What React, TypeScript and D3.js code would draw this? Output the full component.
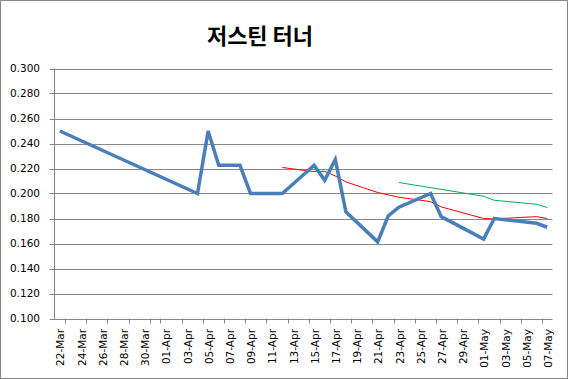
import React from "react";
import * as d3 from "d3";

const title = "저스틴 터너";

const blueDates = ["2015-03-22","2015-04-04","2015-04-05","2015-04-06","2015-04-08","2015-04-09","2015-04-12","2015-04-15","2015-04-16","2015-04-17","2015-04-18","2015-04-21","2015-04-22","2015-04-23","2015-04-26","2015-04-27","2015-05-01","2015-05-02","2015-05-06","2015-05-07"];
const blueValues = [0.250,0.200,0.250,0.2226,0.2226,0.200,0.200,0.2226,0.2105,0.2272,0.1853,0.1613,0.1821,0.1890,0.200,0.1815,0.1635,0.180,0.1762,0.1730];

const redDates = ["2015-04-12","2015-04-15","2015-04-16","2015-04-17","2015-04-18","2015-04-21","2015-04-23","2015-04-26","2015-04-27","2015-05-01","2015-05-02","2015-05-06","2015-05-07"];
const redValues = [0.2208,0.2175,0.2178,0.2140,0.2093,0.2008,0.1970,0.1935,0.1893,0.1800,0.1797,0.1815,0.1800];

const greenDates = ["2015-04-23","2015-05-01","2015-05-02","2015-05-06","2015-05-07"];
const greenValues = [0.2088,0.1978,0.1946,0.1914,0.1888];

const xTickDates = ["2015-03-22","2015-03-24","2015-03-26","2015-03-28","2015-03-30","2015-04-01","2015-04-03","2015-04-05","2015-04-07","2015-04-09","2015-04-11","2015-04-13","2015-04-15","2015-04-17","2015-04-19","2015-04-21","2015-04-23","2015-04-25","2015-04-27","2015-04-29","2015-05-01","2015-05-03","2015-05-05","2015-05-07"];
const xTickLabels = ["22-Mar","24-Mar","26-Mar","28-Mar","30-Mar","01-Apr","03-Apr","05-Apr","07-Apr","09-Apr","11-Apr","13-Apr","15-Apr","17-Apr","19-Apr","21-Apr","23-Apr","25-Apr","27-Apr","29-Apr","01-May","03-May","05-May","07-May"];
const yTicks = [0.1,0.12,0.14,0.16,0.18,0.2,0.22,0.24,0.26,0.28,0.3];

const W = 568, H = 379;
const left = 54.5, right = 552.5, top = 68.5, bottom = 318.5;

const parse = (s: string) => new Date(s + "T00:00:00Z");
const mid = (s: string) => new Date(parse(s).getTime() + 12 * 3600 * 1000);

export default function App() {
  const x = d3.scaleUtc().domain([parse("2015-03-22"), parse("2015-05-08")]).range([left, right]);
  const y = d3.scaleLinear().domain([0.1, 0.3]).range([bottom, top]);
  const line = d3.line<[string, number]>().x(d => x(mid(d[0]))).y(d => y(d[1]));
  const zip = (a: string[], b: number[]) => a.map((d, i) => [d, b[i]] as [string, number]);
  const font = "'DejaVu Sans', Verdana, sans-serif";
  const dayTicks = d3.utcDay.every(2)!.range(parse("2015-03-22"), parse("2015-05-09"));
  return (
    <svg width={W} height={H} style={{ position: "absolute", left: 0, top: 0 }} fontFamily={font}>
      <rect x={0.5} y={0.5} width={W - 1} height={H - 1} fill="#fff" stroke="#868686" />
      <text x={260} y={44} textAnchor="middle" fontSize={22} fontWeight="bold" fontFamily="'Noto Sans CJK KR', sans-serif">{title}</text>
      {yTicks.map(t => (
        <g key={t}>
          <line x1={left - 5} x2={right} y1={Math.round(y(t)) + 0.5} y2={Math.round(y(t)) + 0.5} stroke="#868686" />
          <text x={40} y={y(t)} dy="0.35em" textAnchor="end" fontSize={10.5} fill="#000">{t.toFixed(3)}</text>
        </g>
      ))}
      <line x1={left} x2={left} y1={top} y2={bottom + 1} stroke="#868686" />
      {dayTicks.map((d, i) => (
        <line key={i} x1={Math.round(x(d)) + 0.5} x2={Math.round(x(d)) + 0.5} y1={bottom} y2={bottom + 5} stroke="#868686" />
      ))}
      {xTickDates.map((d, i) => (
        <text key={d} transform={`translate(${x(mid(d)) + 1},${329}) rotate(-90)`} textAnchor="end" dy="0.35em" fontSize={10.5} fill="#000">{xTickLabels[i]}</text>
      ))}
      <path d={line(zip(redDates, redValues))!} fill="none" stroke="#ff0000" strokeWidth={1} />
      <path d={line(zip(greenDates, greenValues))!} fill="none" stroke="#00b050" strokeWidth={1} />
      <path d={line(zip(blueDates, blueValues))!} fill="none" stroke="#4a7ebb" strokeWidth={3.5} strokeLinejoin="miter" />
    </svg>
  );
}
